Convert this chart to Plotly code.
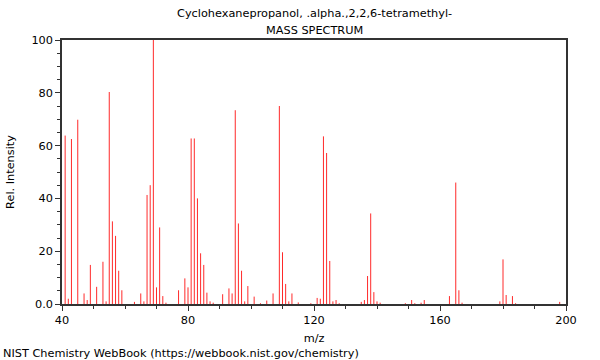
import plotly.graph_objects as go

mz = [41, 42, 43, 45, 47, 48, 49, 51, 53, 54, 55, 56, 57, 58, 59, 63, 65, 66, 67, 68, 69, 70, 71, 72, 73,
      77, 79, 80, 81, 82, 83, 84, 85, 86, 87, 88, 91, 93, 94, 95, 96, 97, 98, 99, 101, 103, 105, 107,
      109, 110, 111, 112, 113, 115, 119, 121, 122, 123, 124, 125, 126, 127, 128, 135, 136, 137, 138,
      139, 140, 141, 149, 151, 152, 154, 155, 163, 165, 166, 167, 179, 180, 181, 183, 184, 198]
intensity = [63.8, 2.0, 62.5, 69.8, 4.0, 1.5, 14.8, 6.5, 16.0, 1.0, 80.3, 31.3, 25.8, 12.6, 5.2, 0.8, 4.0, 1.0,
             41.3, 45.0, 100.0, 6.3, 29.0, 3.0, 0.5,
             5.2, 9.7, 6.3, 62.7, 62.7, 40.0, 19.2, 14.8, 4.3, 1.0, 0.5, 3.7, 5.9, 4.0, 73.4, 30.5, 12.6,
             1.0, 6.8, 2.8, 0.3, 1.3, 4.0,
             75.0, 19.6, 7.6, 1.0, 4.0, 0.6, 0.3, 2.3, 2.0, 63.5, 57.2, 16.3, 1.0, 1.5, 0.3, 0.8, 1.5,
             10.6, 34.3, 4.5, 1.0, 0.5, 0.3, 1.5, 0.3, 0.5, 1.5, 3.0, 46.0, 5.2, 0.5, 1.0, 16.9,
             3.4, 3.0, 0.3, 0.8]

title_line1 = "Cyclohexanepropanol, .alpha.,2,2,6-tetramethyl-"
title_line2 = "MASS SPECTRUM"
x_ticks = [40, 80, 120, 160, 200]
y_ticks = [0, 20, 40, 60, 80, 100]
y_tick_labels = ["0.0", "20", "40", "60", "80", "100"]

xs, ys = [], []
for m, v in zip(mz, intensity):
    xs += [m, m, None]
    ys += [0, v, None]

fig = go.Figure()
fig.add_trace(go.Scatter(x=xs, y=ys, mode="lines",
                         line=dict(color="#ff2a2a", width=1), hoverinfo="skip",
                         showlegend=False))

font = dict(family="DejaVu Sans", size=11.3, color="#000000")
fig.update_layout(
    width=600, height=360,
    margin=dict(l=62, r=34, t=40, b=56, autoexpand=False),
    paper_bgcolor="white", plot_bgcolor="white",
    font=font,
    showlegend=False,
)
fig.update_xaxes(
    range=[40, 200], tickvals=x_ticks, ticks="outside", ticklen=5, tickwidth=1,
    tickcolor="#333333", showgrid=False, zeroline=False,
    showline=True, linecolor="#333333", linewidth=1.5, mirror=True,
    minor=dict(dtick=10, ticks="outside", ticklen=3, tickcolor="#333333", showgrid=False),
    title=dict(text="m/z", standoff=8, font=font),
    tickfont=font,
)
fig.update_yaxes(
    range=[0, 100], tickvals=y_ticks, ticktext=y_tick_labels, ticks="outside", ticklen=5,
    tickwidth=1, tickcolor="#333333", showgrid=False, zeroline=False,
    showline=True, linecolor="#333333", linewidth=1.5, mirror=True,
    minor=dict(dtick=5, ticks="outside", ticklen=3, tickcolor="#333333", showgrid=False),
    title=dict(text="Rel. Intensity", standoff=14, font=font),
    tickfont=font,
)
fig.add_annotation(text=title_line1, xref="paper", yref="paper", x=0.5, y=1,
                   yshift=27, showarrow=False, font=font, xanchor="center", yanchor="middle")
fig.add_annotation(text=title_line2, xref="paper", yref="paper", x=0.5, y=1,
                   yshift=10, showarrow=False, font=font, xanchor="center", yanchor="middle")
fig.add_annotation(text="NIST Chemistry WebBook (https://webbook.nist.gov/chemistry)",
                   xref="paper", yref="paper", x=0, y=0, xshift=-61, yshift=-49,
                   showarrow=False, font=font, xanchor="left", yanchor="middle")

fig.write_html("out.html", config={"displayModeBar": False},
               post_script="document.body.style.margin='0';")
